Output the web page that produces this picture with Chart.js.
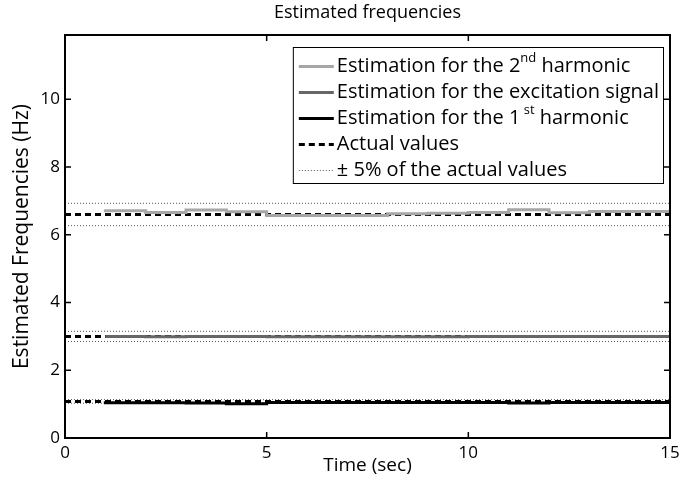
<!DOCTYPE html>
<html><head><meta charset="utf-8">
<script src="https://cdn.jsdelivr.net/npm/chart.js@4/dist/chart.umd.min.js"></script>
<style>html,body{margin:0;padding:0;background:#fff}canvas{display:block}</style>
</head><body>
<canvas id="c" width="691" height="477"></canvas>
<script>
// ---- data ----
const timeSteps = [1,2,3,4,5,6,7,8,9,10,11,12,13,14,15];
const est2ndHarmonic = [6.75,6.71,6.66,6.73,6.68,6.57,6.57,6.57,6.62,6.64,6.66,6.74,6.65,6.69,6.69];
const estExcitation  = [3.00,3.00,2.99,3.00,3.00,2.99,2.99,2.99,2.99,2.99,3.00,3.00,3.00,3.00,3.00];
const est1stHarmonic = [1.00,1.04,1.04,1.03,1.01,1.05,1.05,1.05,1.05,1.05,1.05,1.03,1.05,1.05,1.05];
const actualTimes = [0,15];
const actualValues = [6.6, 3.0, 1.08];
const tolerance = 0.05;
const xTicks = [0,5,10,15];
const yTicks = [0,2,4,6,8,10];
const seriesLabels = [
  'Estimation for the 2^{nd} harmonic',
  'Estimation for the excitation signal',
  'Estimation for the 1^{ st} harmonic',
  'Actual values',
  '\u00B1 5% of the actual values'
];

const FONT = "'Open Sans', 'DejaVu Sans', sans-serif";
const toPts = (xs, ys) => xs.map((x,i)=>({x, y: ys[i]}));

const datasets = [
  {label: seriesLabels[0], data: toPts(timeSteps, est2ndHarmonic), borderColor:'#a6a6a6', borderWidth:3, stepped:'after', showInLegend:true},
  {label: seriesLabels[1], data: toPts(timeSteps, estExcitation), borderColor:'#666666', borderWidth:3, stepped:'after', showInLegend:true},
  {label: seriesLabels[2], data: toPts(timeSteps, est1stHarmonic), borderColor:'#000000', borderWidth:3, stepped:'after', showInLegend:true},
  ...actualValues.map((v,i)=>({label: seriesLabels[3], data: actualTimes.map(x=>({x, y:v})), borderColor:'#000', borderWidth:3, borderDash:[6,4], showInLegend: i===0})),
  ...actualValues.flatMap((v,i)=>[1+tolerance, 1-tolerance].map((f,j)=>({label: seriesLabels[4], data: actualTimes.map(x=>({x, y:v*f})), borderColor:'#555', borderWidth:1, borderDash:[1,2], showInLegend: i===0 && j===0})))
];
datasets.forEach(d=>{d.pointRadius=0; d.fill=false; d.tension=0;});

function parseLabel(s){
  const parts=[]; const re=/\^\{([^}]*)\}/g; let last=0, m;
  while((m=re.exec(s))){ if(m.index>last) parts.push({t:s.slice(last,m.index)}); parts.push({t:m[1], sup:true}); last=re.lastIndex; }
  if(last<s.length) parts.push({t:s.slice(last)});
  return parts;
}

const framePlugin = {
  id:'frame',
  afterDatasetsDraw(chart){
    const {ctx, chartArea:ca, scales} = chart;
    ctx.save();
    ctx.strokeStyle='#000';
    ctx.lineWidth=1.5;
    const tl=6;
    ctx.beginPath();
    xTicks.forEach(v=>{const x=scales.x.getPixelForValue(v); ctx.moveTo(x,ca.bottom); ctx.lineTo(x,ca.bottom-tl); ctx.moveTo(x,ca.top); ctx.lineTo(x,ca.top+tl);});
    yTicks.forEach(v=>{const y=scales.y.getPixelForValue(v); ctx.moveTo(ca.left,y); ctx.lineTo(ca.left+tl,y); ctx.moveTo(ca.right,y); ctx.lineTo(ca.right-tl,y);});
    ctx.stroke();
    ctx.lineWidth=2;
    ctx.strokeRect(ca.left, ca.top, ca.right-ca.left, ca.bottom-ca.top);
    ctx.restore();
  },
  afterDraw(chart){
    const {ctx, chartArea:ca} = chart;
    const items = chart.data.datasets.filter(d=>d.showInLegend);
    const fs=20, supFs=13, rowH=26, padL=6, sampleLen=35, gap=3, padR=4, padT=6;
    const mainFont = fs+'px '+FONT, supFont = supFs+'px '+FONT;
    ctx.save();
    const parsed = items.map(d=>parseLabel(d.label));
    const widthOf = parts => parts.reduce((w,p)=>{ctx.font=p.sup?supFont:mainFont; return w+ctx.measureText(p.t).width;},0);
    const maxW = Math.max(...parsed.map(widthOf));
    const boxW = padL+sampleLen+gap+maxW+padR;
    const boxH = padT+rowH*items.length;
    const x0 = ca.right-7-boxW, y0 = ca.top+12;
    ctx.fillStyle='#fff'; ctx.fillRect(x0,y0,boxW,boxH);
    ctx.strokeStyle='#000'; ctx.lineWidth=1; ctx.strokeRect(x0+0.5,y0+0.5,boxW,boxH);
    items.forEach((d,i)=>{
      const cy = y0+padT+rowH*(i+0.5);
      ctx.beginPath();
      ctx.strokeStyle=d.borderColor; ctx.lineWidth=d.borderWidth; ctx.setLineDash(d.borderDash||[]);
      const ly = Math.round(cy)+(d.borderWidth%2?0.5:0);
      ctx.moveTo(x0+padL, ly); ctx.lineTo(x0+padL+sampleLen, ly);
      ctx.stroke(); ctx.setLineDash([]);
      let tx = x0+padL+sampleLen+gap;
      ctx.fillStyle='#000'; ctx.textBaseline='middle'; ctx.textAlign='left';
      parsed[i].forEach(p=>{
        ctx.font = p.sup?supFont:mainFont;
        ctx.fillText(p.t, tx, p.sup? cy-8 : cy);
        tx += ctx.measureText(p.t).width;
      });
    });
    ctx.restore();
  }
};

new Chart(document.getElementById('c'), {
  type:'line',
  data:{datasets},
  plugins:[framePlugin],
  options:{
    responsive:false, animation:false, devicePixelRatio:1,
    layout:{padding:{left:0,right:21,top:0,bottom:0}},
    plugins:{
      legend:{display:false}, tooltip:{enabled:false},
      title:{display:true, fullSize:false, text:'Estimated frequencies', color:'#000', font:{family:FONT, size:18, weight:'normal'}, padding:{top:2,bottom:11.4}}
    },
    scales:{
      x:{type:'linear', min:0, max:15,
        afterBuildTicks:s=>{s.ticks = xTicks.map(v=>({value:v}));},
        afterFit:s=>{s.height=39;},
        grid:{display:false, drawTicks:false}, border:{display:false},
        ticks:{color:'#000', font:{family:FONT, size:17}, padding:5, maxRotation:0},
        title:{display:true, text:'Time (sec)', color:'#000', font:{family:FONT, size:19}, padding:{top:0,bottom:0}}},
      y:{type:'linear', min:0, max:11.9,
        afterBuildTicks:s=>{s.ticks = yTicks.map(v=>({value:v}));},
        afterFit:s=>{s.width=65;},
        grid:{display:false, drawTicks:false}, border:{display:false},
        ticks:{color:'#000', font:{family:FONT, size:17}, padding:5},
        title:{display:true, text:'Estimated Frequencies (Hz)', color:'#000', font:{family:FONT, size:21}, padding:{top:9,bottom:0}}}
    }
  }
});
</script>
</body></html>
